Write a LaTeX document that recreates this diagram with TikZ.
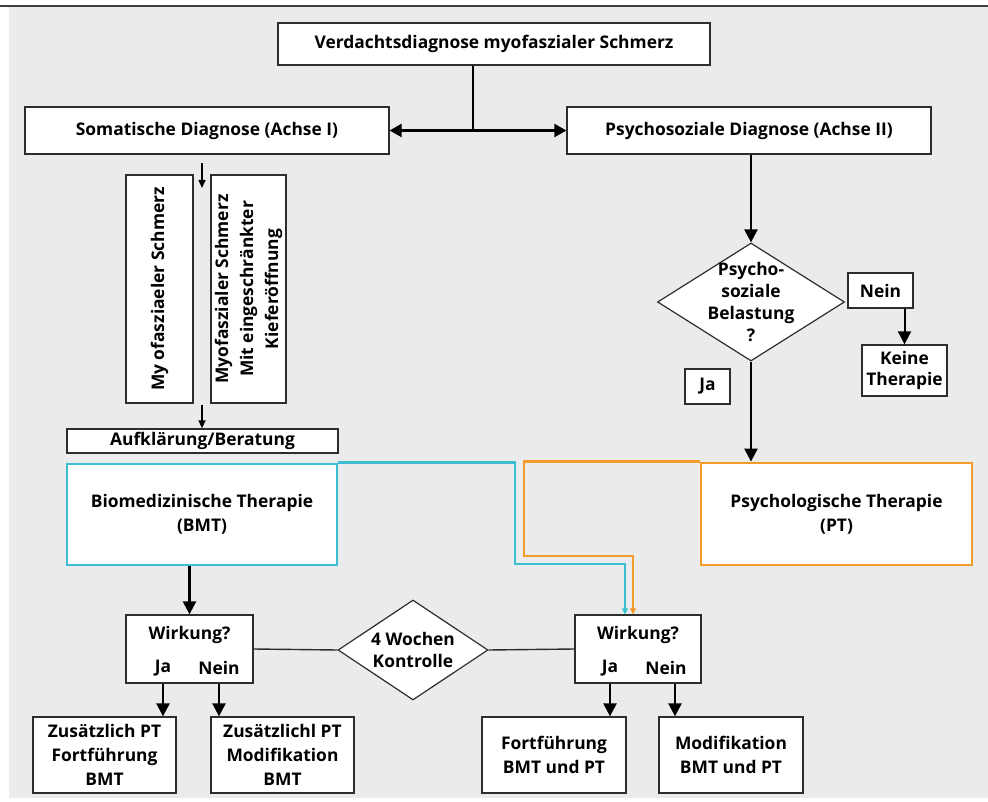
\documentclass[tikz,border=0pt]{standalone}
\usepackage{fontspec}
\setmainfont{Open Sans}
\usetikzlibrary{arrows.meta,shapes.geometric}

\definecolor{bggray}{RGB}{234,235,237}
\definecolor{bmtcyan}{RGB}{60,190,208}
\definecolor{ptorange}{RGB}{243,156,43}
\definecolor{framegray}{RGB}{45,45,45}

\begin{document}
\begin{tikzpicture}[x=1pt, y=-1pt,
    box/.style={draw=framegray, line width=1.3pt, fill=white, align=center,
        inner sep=1pt, font=\bfseries\fontsize{17.4}{24}\selectfont},
    lbl/.style={align=center, inner sep=0pt, font=\bfseries\fontsize{17.4}{22}\selectfont},
    decision/.style={diamond, draw=framegray, line width=1.2pt, fill=white, inner sep=0pt},
    bigarrow/.style={line width=2.4pt, -{Triangle[length=13pt, width=13pt]}},
    smallarrow/.style={line width=1.5pt, -{Triangle[length=8pt, width=7pt]}},
    link/.style={line width=1.4pt, framegray},
    bmtline/.style={line width=2.8pt, bmtcyan, -{Triangle[length=6pt, width=6pt]}},
    ptline/.style={line width=2.8pt, ptorange, -{Triangle[length=6pt, width=6pt]}}
]
    \useasboundingbox (0,0) rectangle (988,802);
    \fill[bggray] (9,7) rectangle (988,798);
    \draw[line width=1.5pt, black!75] (0,6) -- (988,6);

    % Diagnose
    \node[box, minimum width=432, minimum height=42] (verd) at (494,44) {Verdachtsdiagnose myofaszialer Schmerz};
    \node[box, minimum width=364, minimum height=47] (soma) at (207,130.5) {Somatische Diagnose (Achse I)};
    \node[box, minimum width=364, minimum height=47] (psych) at (749,130.5) {Psychosoziale Diagnose (Achse II)};
    \coordinate (split) at (473,132);
    \draw[line width=2.4pt] (verd.south -| split) -- (split);
    \draw[line width=2.4pt, {Triangle[length=12pt, width=13pt]}-{Triangle[length=12pt, width=13pt]}] (soma.east) -- (psych.west);

    % Achse I
    \node[box, rotate=90, minimum width=228, minimum height=67] (myo1) at (159.5,289) {My ofasziaeler Schmerz};
    \node[box, rotate=90, minimum width=228, minimum height=75, font=\bfseries\fontsize{17.4}{25}\selectfont] (myo2) at (248.5,289) {Myofaszialer Schmerz\\Mit eingeschränkter\\Kieferöffnung};
    \node[box, minimum width=271, minimum height=24, inner sep=0pt] (aufk) at (202.5,441) {Aufklärung/Beratung};
    \coordinate (somadown) at (202,163);
    \coordinate (myodown) at (202,405);
    \draw[smallarrow] (somadown) -- ++(0,25);
    \draw[smallarrow] (myodown) -- (aufk.north -| myodown);

    % Achse II
    \node[decision, minimum width=187, minimum height=118,
        label={[lbl]center:Psycho-\\soziale\\Belastung\\?}] (belast) at (751,302) {};
    \node[box, minimum width=65, minimum height=35] (nein) at (880.5,290.5) {Nein};
    \node[box, minimum width=85, minimum height=51, font=\bfseries\fontsize{17.4}{21}\selectfont] (keine) at (904.5,370.5) {Keine\\Therapie};
    \node[box, minimum width=45, minimum height=35] (ja) at (707.5,386.5) {Ja};
    \draw[bigarrow] (belast.north |- psych.south) -- (belast.north);
    \draw[bigarrow, line width=2pt] (keine.north |- nein.south) -- (keine.north);

    % Therapien
    \node[box, draw=bmtcyan, line width=2.8pt, minimum width=270, minimum height=101] (bmt) at (202,514.5) {Biomedizinische Therapie\\(BMT)};
    \node[box, draw=ptorange, line width=2.8pt, minimum width=271, minimum height=102] (pt) at (836.5,514) {Psychologische Therapie\\(PT)};
    \draw[bigarrow] (belast.south) -- (belast.south |- pt.north);

    % Kontrolle
    \node[box, minimum width=127, minimum height=68] (wirk1) at (189.5,649) {};
    \node[box, minimum width=126, minimum height=68] (wirk2) at (638,649) {};
    \node[lbl] (wq1) at (189.5,635) {Wirkung?};
    \node[lbl] (ja1) at (163,668) {Ja};
    \node[lbl] (nein1) at (219,668) {Nein};
    \node[lbl] (wq2) at (638,635) {Wirkung?};
    \node[lbl] (ja2) at (610,668) {Ja};
    \node[lbl] (nein2) at (666,668) {Nein};
    \node[decision, minimum width=150, minimum height=100,
        label={[lbl]center:4 Wochen\\Kontrolle}] (woche) at (413,650) {};
    \draw[link] (wirk1.east) -- (woche.west);
    \draw[link] (woche.east) -- (wirk2.west);

    \draw[bigarrow] (bmt.south -| wirk1.north) -- (wirk1.north);
    \draw[bmtline] (bmt.north east) -| (515,564) -| (625,0 |- wirk2.north);
    \draw[ptline] (pt.north west) -| (524,556) -| (633,0 |- wirk2.north);

    % Ergebnisse
    \node[box, minimum width=143, minimum height=76] (zus1) at (104.5,755) {Zusätzlich PT\\Fortführung\\BMT};
    \node[box, minimum width=143, minimum height=76] (zus2) at (282.5,755) {Zusätzlichl PT\\Modifikation\\BMT};
    \node[box, minimum width=144, minimum height=76] (fort) at (554,755) {Fortführung\\BMT und PT};
    \node[box, minimum width=144, minimum height=76] (modi) at (731,755) {Modifikation\\BMT und PT};
    \draw[bigarrow] (wirk1.south -| ja1) -- (zus1.north -| ja1);
    \draw[bigarrow] (wirk1.south -| nein1) -- (zus2.north -| nein1);
    \draw[bigarrow] (wirk2.south -| ja2) -- (fort.north -| ja2);
    \draw[bigarrow] (wirk2.south -| 675,0) -- (modi.north -| 675,0);
\end{tikzpicture}
\end{document}
